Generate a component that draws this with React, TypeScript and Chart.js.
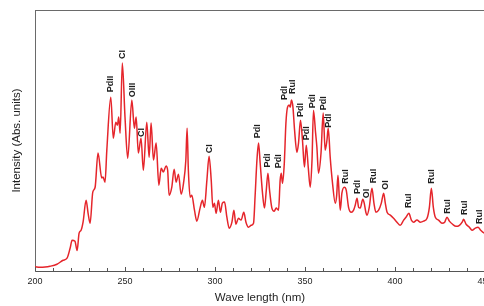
import React, { useEffect, useRef } from 'react';
import { Chart, registerables } from 'chart.js';

Chart.register(...registerables);

// Wavelength (nm) of each sampled point of the spectrum
const wavelengths = [
  200.0, 202.8, 205.6, 208.3, 212.2, 215.6, 217.8, 219.5, 220.6, 222.2,
  223.4, 224.5, 225.6, 226.7, 228.4, 229.5, 230.6, 232.1, 233.4, 235.0,
  237.1, 237.8, 238.9, 239.9, 242.1, 243.5, 244.9, 245.8, 246.5, 247.3,
  248.5, 250.0, 251.5, 253.8, 255.2, 256.2, 257.4, 258.9, 260.2, 262.1,
  263.4, 264.5, 265.8, 267.3, 268.8, 270.1, 271.3, 272.8, 273.7, 274.5,
  276.0, 277.3, 278.4, 279.7, 281.2, 282.5, 283.8, 284.5, 285.2, 286.2,
  287.1, 288.6, 289.9, 291.7, 293.0, 294.1, 295.5, 296.7, 297.9, 298.8,
  299.7, 300.6, 301.9, 303.0, 304.1, 305.3, 306.6, 307.9, 309.4, 310.5,
  311.6, 313.0, 314.5, 316.0, 317.2, 318.6, 320.1, 321.4, 322.3, 323.3,
  324.2, 325.1, 326.4, 327.5, 328.5, 329.4, 330.3, 331.6, 332.9, 334.0,
  335.3, 336.2, 336.8, 337.5, 338.5, 339.4, 340.3, 341.2, 341.8, 342.5,
  343.3, 344.2, 345.5, 346.4, 347.5, 348.6, 349.7, 350.7, 351.8, 352.9,
  353.9, 354.7, 355.9, 356.6, 357.5, 358.9, 360.1, 361.2, 362.2, 362.9,
  364.0, 365.3, 366.8, 367.6, 368.3, 369.0, 369.6, 370.5, 371.8, 372.9,
  374.2, 375.7, 377.0, 377.9, 378.9, 379.8, 380.7, 382.1, 382.9, 383.8,
  384.4, 385.7, 387.2, 388.3, 389.4, 390.9, 392.4, 393.7, 394.6, 395.6,
  397.4, 399.2, 401.1, 402.9, 404.8, 406.1, 407.7, 409.1, 410.3, 412.2,
  414.1, 415.9, 417.8, 419.1, 420.2, 421.3, 422.4, 424.2, 426.1, 427.6,
  428.9, 430.2, 432.0, 433.9, 435.8, 437.3, 438.1, 439.5, 441.3, 442.8,
  444.6, 446.1, 447.6, 449.6, 453.0,
];

// Intensity (arbitrary units, 0-100 of the frame height)
const intensity = [
  1.6, 1.4, 1.5, 1.8, 2.6, 4.1, 4.9, 8.7, 11.8, 11.4,
  7.9, 14.5, 15.6, 18.7, 27.1, 22.1, 18.3, 30.2, 32.1, 45.2,
  35.6, 36.0, 34.0, 46.3, 66.6, 50.9, 57.0, 55.9, 59.0, 52.8,
  79.7, 59.0, 43.2, 65.5, 54.7, 59.0, 45.2, 50.9, 38.6, 57.0,
  43.6, 56.7, 42.5, 49.0, 32.9, 39.4, 37.9, 40.2, 38.6, 29.0,
  32.1, 39.0, 34.0, 37.1, 29.4, 33.6, 42.5, 54.7, 38.6, 28.3,
  29.0, 23.3, 19.1, 24.1, 27.1, 24.4, 34.8, 44.0, 34.8, 24.4,
  26.0, 22.1, 27.1, 22.5, 26.0, 26.4, 20.6, 16.4, 18.7, 23.3,
  17.9, 20.2, 19.5, 22.5, 18.7, 16.8, 17.5, 18.3, 29.0, 42.5,
  49.0, 41.3, 29.8, 24.1, 31.0, 37.5, 31.0, 24.1, 22.9, 24.1,
  23.3, 34.8, 37.5, 33.6, 41.3, 56.7, 62.8, 63.6, 62.8, 65.5,
  62.8, 54.0, 45.5, 49.0, 57.8, 50.1, 39.8, 48.2, 39.8, 32.1,
  42.5, 61.6, 52.8, 47.5, 37.5, 45.2, 60.5, 46.3, 50.1, 54.7,
  43.6, 33.6, 26.0, 29.0, 36.7, 29.0, 23.3, 29.8, 32.1, 31.0,
  24.4, 22.5, 23.3, 25.2, 27.9, 24.4, 24.1, 27.5, 26.0, 22.5,
  21.4, 24.4, 31.7, 26.0, 22.5, 23.3, 26.0, 29.8, 26.0, 22.5,
  21.4, 20.2, 18.7, 17.5, 19.5, 20.6, 22.1, 19.5, 18.7, 19.5,
  18.7, 19.1, 20.2, 24.4, 31.7, 24.4, 20.6, 19.5, 18.3, 18.7,
  20.6, 19.1, 17.9, 17.1, 17.5, 18.7, 19.8, 17.9, 16.8, 15.6,
  16.4, 16.8, 15.6, 14.5, 14.1,
];

// Peak identification labels
const peakLabelText = [
  'PdII', 'CI', 'OIII', 'CI', 'CI', 'PdI', 'PdI', 'PdI', 'PdI', 'RuI',
  'PdI', 'PdI', 'PdI', 'PdI', 'PdI', 'RuI', 'PdI', 'OI', 'RuI', 'OI',
  'RuI', 'RuI', 'RuI', 'RuI', 'RuI',
];
const peakLabelWave = [
  242.1, 248.5, 254.1, 259.3, 296.7, 323.8, 329.4, 335.3, 338.6, 343.3,
  347.5, 350.8, 354.0, 360.1, 363.3, 372.5, 379.0, 384.4, 388.3, 394.8,
  407.4, 420.2, 429.1, 438.4, 447.1,
];
const peakLabelValue = [
  68.5, 81.2, 66.6, 51.3, 45.1, 50.9, 39.7, 39.4, 65.5, 67.8,
  59.0, 50.1, 62.4, 61.6, 54.9, 33.4, 29.5, 27.9, 33.6, 31.1,
  24.1, 33.4, 21.9, 21.5, 18.0,
];

const xTickLabels = [200, 250, 300, 350, 400, 450];
const xMinorStep = 10;
const xMin = 200;
const xMax = 450;
const yMin = 0;
const yMax = 100;

const FONT = "'Liberation Sans', Arial, sans-serif";
const LINE_COLOR = '#e5252b';
const FRAME_COLOR = '#6a6a6a';
const TEXT_COLOR = '#1e1e1e';

export default function App() {
  const ref = useRef<HTMLCanvasElement>(null);

  useEffect(() => {
    if (!ref.current) return;

    const framePlugin = {
      id: 'frameAndLabels',
      afterDraw(chart: any) {
        const { ctx, chartArea, scales } = chart;
        const xs = scales.x;
        const ys = scales.y;
        ctx.save();
        // top & right frame
        ctx.strokeStyle = FRAME_COLOR;
        ctx.lineWidth = 1;
        ctx.beginPath();
        ctx.moveTo(chartArea.left, Math.round(chartArea.top) + 0.5);
        ctx.lineTo(chartArea.right, Math.round(chartArea.top) + 0.5);
        ctx.moveTo(Math.round(chartArea.right) + 0.5, chartArea.top);
        ctx.lineTo(Math.round(chartArea.right) + 0.5, chartArea.bottom);
        ctx.stroke();
        // inward ticks on x axis
        ctx.strokeStyle = '#555';
        ctx.beginPath();
        for (let v = xMin; v <= xMax; v += xMinorStep) {
          const px = Math.round(xs.getPixelForValue(v)) + 0.5;
          const len = xTickLabels.includes(v) ? 4 : 3;
          ctx.moveTo(px, chartArea.bottom);
          ctx.lineTo(px, chartArea.bottom - len);
        }
        ctx.stroke();
        // peak labels
        ctx.fillStyle = TEXT_COLOR;
        ctx.font = `bold 9px ${FONT}`;
        ctx.textAlign = 'left';
        ctx.textBaseline = 'middle';
        for (let i = 0; i < peakLabelText.length; i++) {
          const px = xs.getPixelForValue(peakLabelWave[i]);
          const py = ys.getPixelForValue(peakLabelValue[i]);
          ctx.save();
          ctx.translate(px, py);
          ctx.rotate(-Math.PI / 2);
          ctx.fillText(peakLabelText[i], 0, 0);
          ctx.restore();
        }
        ctx.restore();
      },
    };

    const chart = new Chart(ref.current, {
      type: 'line',
      data: {
        datasets: [
          {
            data: wavelengths.map((w, i) => ({ x: w, y: intensity[i] })),
            borderColor: LINE_COLOR,
            borderWidth: 1.5,
            pointRadius: 0,
            fill: false,
            cubicInterpolationMode: 'monotone',
          },
        ],
      },
      options: {
        responsive: false,
        animation: false,
        events: [],
        layout: { padding: { left: 0, right: 14, top: 10, bottom: 0 } },
        plugins: {
          legend: { display: false },
          tooltip: { enabled: false },
        },
        scales: {
          x: {
            type: 'linear',
            min: xMin,
            max: xMax,
            afterFit: (s: any) => {
              s.height = 35;
            },
            afterBuildTicks: (s: any) => {
              s.ticks = xTickLabels.map((v) => ({ value: v }));
            },
            grid: { display: false, drawTicks: false },
            border: { display: true, color: '#555', width: 1 },
            ticks: {
              padding: 5,
              color: TEXT_COLOR,
              maxRotation: 0,
              autoSkip: false,
              font: { family: FONT, size: 9 },
              callback: (v: any) => String(v),
            },
            title: {
              display: true,
              text: 'Wave length (nm)',
              color: TEXT_COLOR,
              font: { family: FONT, size: 11.5 },
              padding: { top: 0, bottom: 1 },
            },
          },
          y: {
            min: yMin,
            max: yMax,
            afterFit: (s: any) => {
              s.width = 35;
            },
            grid: { display: false, drawTicks: false },
            border: { display: true, color: FRAME_COLOR, width: 1 },
            ticks: { display: false },
            title: {
              display: true,
              text: 'Intensity (Abs. units)',
              color: TEXT_COLOR,
              font: { family: FONT, size: 11.5 },
              padding: { top: 10, bottom: 0 },
            },
          },
        },
      },
      plugins: [framePlugin],
    } as any);

    return () => chart.destroy();
  }, []);

  return (
    <div
      style={{
        position: 'fixed',
        left: 0,
        top: 0,
        width: 484,
        height: 306,
        overflow: 'hidden',
        background: '#fff',
      }}
    >
      <canvas
        ref={ref}
        width={499}
        height={306}
        style={{ display: 'block', width: 499, height: 306 }}
      />
    </div>
  );
}
